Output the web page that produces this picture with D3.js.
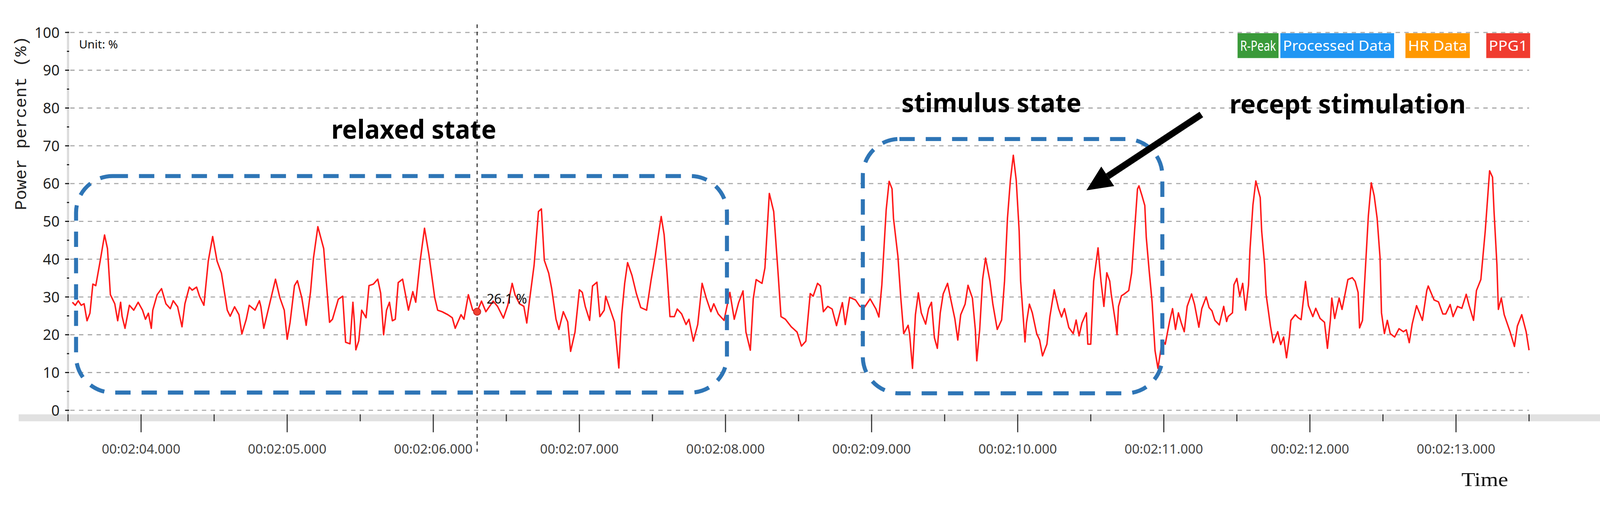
<!DOCTYPE html>
<html><head><meta charset="utf-8">
<script src="https://cdn.jsdelivr.net/npm/d3@7"></script>
<style>html,body{margin:0;padding:0;background:#fff;overflow:hidden;}svg{display:block;width:100vw;height:100vh;}</style>
</head><body><svg id="c" viewBox="0 0 4375 1313" preserveAspectRatio="xMidYMid meet"></svg>
<script>
// time in seconds after 00:02:00
const times = [123.53,123.55,123.57,123.59,123.61,123.63,123.65,123.67,123.69,123.72,123.75,123.77,123.79,123.82,123.84,123.86,123.87,123.89,123.92,123.95,123.98,124.01,124.03,124.05,124.07,124.08,124.11,124.14,124.17,124.20,124.22,124.25,124.28,124.30,124.33,124.35,124.38,124.40,124.43,124.46,124.49,124.52,124.55,124.59,124.61,124.64,124.67,124.69,124.72,124.74,124.78,124.81,124.82,124.84,124.88,124.92,124.95,124.98,125.00,125.02,125.05,125.07,125.10,125.13,125.16,125.18,125.21,125.25,125.27,125.29,125.31,125.35,125.38,125.40,125.43,125.45,125.46,125.47,125.49,125.51,125.54,125.56,125.59,125.62,125.64,125.66,125.68,125.70,125.72,125.74,125.76,125.79,125.83,125.86,125.88,125.91,125.94,125.97,126.01,126.03,126.06,126.10,126.13,126.15,126.19,126.21,126.24,126.27,126.30,
126.33,126.36,126.41,126.44,126.48,126.51,126.54,126.56,126.59,126.62,126.64,126.66,126.69,126.72,126.74,126.76,126.79,126.81,126.84,126.86,126.89,126.92,126.94,126.97,127.00,127.02,127.04,127.07,127.09,127.12,127.14,127.17,127.18,127.21,127.24,127.27,127.29,127.31,127.33,127.36,127.39,127.42,127.46,127.49,127.52,127.56,127.58,127.60,127.62,127.65,127.67,127.70,127.73,127.75,127.78,127.81,127.84,127.87,127.90,127.92,127.95,127.99,128.03,128.06,128.09,128.12,128.14,128.17,128.19,128.21,128.25,128.27,128.30,128.33,128.36,128.38,128.41,128.45,128.49,128.52,128.55,128.58,128.60,128.63,128.65,128.67,128.70,128.73,128.76,128.80,128.82,128.85,128.89,128.92,128.95,128.99,129.03,
129.05,129.07,129.10,129.12,129.14,129.15,129.18,129.20,129.22,129.25,129.26,129.28,129.30,129.32,129.34,129.37,129.39,129.41,129.43,129.45,129.47,129.49,129.52,129.54,129.57,129.59,129.61,129.64,129.66,129.69,129.71,129.72,129.74,129.76,129.78,129.81,129.83,129.86,129.89,129.91,129.93,129.95,129.97,129.99,130.01,130.02,130.05,130.06,130.08,130.10,130.13,130.15,130.17,130.20,130.22,130.25,130.28,130.30,130.32,130.35,130.38,130.40,130.42,130.44,130.47,130.48,130.50,130.52,130.55,130.57,130.59,130.61,130.63,130.64,130.67,130.68,130.69,130.71,130.73,130.76,130.78,130.80,130.82,130.83,130.85,130.87,130.88,130.90,130.92,130.94,130.96,130.99,131.01,131.04,131.06,131.08,131.10,131.12,131.14,131.16,131.19,131.21,131.24,131.26,131.29,
131.31,131.33,131.35,131.38,131.39,131.41,131.43,131.44,131.47,131.48,131.50,131.52,131.54,131.56,131.58,131.59,131.61,131.63,131.66,131.67,131.69,131.70,131.73,131.75,131.78,131.80,131.82,131.84,131.86,131.87,131.90,131.92,131.94,131.97,131.99,132.02,132.04,132.07,132.10,132.12,132.14,132.15,132.17,132.20,132.22,132.26,132.29,132.31,132.33,132.34,132.36,132.38,132.40,132.42,132.44,132.46,132.48,132.49,132.51,132.53,132.55,132.58,132.61,132.64,132.66,132.68,132.70,132.73,132.75,132.77,132.80,132.81,132.85,132.88,132.91,132.93,132.96,132.98,133.01,133.04,133.07,133.09,133.12,133.14,133.17,133.20,133.23,133.25,133.26,133.28,133.29,133.31,133.33,133.37,133.40,133.42,133.45,133.48,133.50];
const ppg1 = [28.6,27.8,29.0,27.8,28.2,23.7,25.7,33.4,33.0,39.5,46.4,42.8,30.6,28.2,23.7,28.6,24.9,21.7,27.8,26.5,28.6,26.5,24.1,25.7,21.7,26.5,30.6,32.2,28.2,26.9,29.0,27.4,22.1,28.2,32.6,31.8,32.6,30.2,27.8,39.5,46.0,39.5,36.3,26.5,24.9,27.4,25.3,20.2,24.1,27.8,26.5,29.0,27.4,21.7,28.2,34.7,29.8,26.5,18.8,23.3,33.0,34.3,29.8,22.5,31.4,40.3,48.6,42.8,33.0,23.3,24.1,29.4,30.2,18.0,17.6,28.6,23.3,16.0,18.4,26.5,24.5,33.0,33.4,34.7,31.0,20.0,26.5,28.6,23.7,24.1,33.8,34.7,26.5,31.4,28.6,39.5,48.2,41.2,29.8,26.5,26.1,25.3,24.5,21.7,25.3,24.1,30.6,26.5,26.1,
28.9,26.1,28.9,27.5,24.4,27.8,33.6,30.5,28.2,27.5,23.1,29.5,38.4,52.6,53.3,39.7,36.3,32.3,24.1,21.4,26.1,23.4,15.6,20.7,31.9,31.2,27.5,23.8,32.9,33.9,24.8,26.5,30.2,26.8,23.4,11.2,25.5,33.6,39.1,35.7,30.9,27.2,26.5,34.3,41.1,51.3,46.5,36.3,24.8,24.8,26.8,25.5,22.7,24.1,18.3,22.7,33.6,29.5,26.1,28.2,25.5,23.8,31.2,24.1,28.5,31.6,20.7,15.9,29.5,34.6,33.6,37.7,57.4,52.6,36.3,24.8,24.1,22.1,20.7,17.0,18.3,30.9,30.2,33.6,32.9,26.1,27.5,26.8,22.4,28.5,22.7,29.9,29.2,27.5,27.2,29.5,26.8,
24.7,33.1,53.1,60.6,58.6,50.8,40.8,29.7,20.3,22.5,20.3,11.1,25.3,31.1,25.8,22.8,26.9,28.6,19.2,16.4,25.8,30.8,33.6,29.7,24.2,18.6,25.3,28.1,33.1,29.7,21.4,13.1,21.4,34.7,40.3,34.2,28.1,21.4,23.9,34.2,50.8,60.9,67.5,60.9,47.5,34.2,18.1,23.1,28.1,25.8,20.3,18.6,14.4,17.5,24.7,31.9,26.9,24.7,26.9,21.9,20.3,23.9,19.7,23.1,25.8,17.5,17.5,34.2,43.0,34.2,27.5,36.4,34.2,30.8,23.1,20.0,27.5,30.3,30.8,31.7,36.4,47.5,58.6,59.4,56.9,54.2,45.8,36.9,28.6,15.8,11.1,18.6,17.5,23.6,26.9,21.4,25.8,23.1,20.8,27.5,30.8,28.1,22.0,26.9,30.0,
27.2,26.3,23.8,22.6,24.3,27.5,23.5,24.8,25.8,33.2,34.9,30.2,33.6,26.5,33.2,42.5,54.3,60.7,56.3,47.4,38.6,30.7,22.3,17.9,20.8,17.4,19.4,13.9,19.6,23.8,25.3,24.5,24.0,34.1,27.7,24.8,27.0,24.3,23.3,16.4,23.8,29.7,24.3,29.7,26.7,34.6,35.1,34.1,31.2,21.8,23.8,37.6,51.4,60.2,56.8,50.9,40.5,25.8,20.3,23.8,20.3,19.4,21.6,20.8,21.3,17.9,22.8,27.7,25.8,23.8,31.7,32.9,29.2,28.7,25.5,25.5,28.0,24.8,27.5,27.0,30.7,27.7,23.8,31.7,34.6,47.4,63.4,61.7,52.9,38.6,26.7,29.7,25.3,20.8,16.9,22.3,25.3,20.8,15.9];
const yTicks = [0,10,20,30,40,50,60,70,80,90,100];
const xTicks = [124,125,126,127,128,129,130,131,132,133];
const xTickLabels = ["00:02:04.000","00:02:05.000","00:02:06.000","00:02:07.000","00:02:08.000","00:02:09.000","00:02:10.000","00:02:11.000","00:02:12.000","00:02:13.000"];
const legendNames = ["R-Peak","Processed Data","HR Data","PPG1"];
const legendColors = ["#3a9a3a","#2196f3","#ff9800","#f03c30"];
const cursorTime = 126.30, cursorValue = 26.1;
// annotation regions [t0,t1,vTop,vBottom]
const regions = [[123.555,128.01,62.0,4.7],[128.94,130.99,71.8,4.5]];
const regionLabels = ["relaxed state","stimulus state"];
const arrowFromTo = [131.257,78.3,130.47,58.2];

const svg = d3.select("#c");
const x = d3.scaleLinear().domain([123.5,133.5]).range([186,4181]);
const y = d3.scaleLinear().domain([0,100]).range([1077,44]);

svg.append("rect").attr("x",51).attr("y",1088).attr("width",4324).attr("height",19).attr("fill","#e1e1e1");
svg.append("line").attr("x1",186).attr("x2",186).attr("y1",40).attr("y2",1088).attr("stroke","#dcdcdc").attr("stroke-width",6);
svg.append("g").selectAll("line").data(yTicks).join("line")
  .attr("x1",192).attr("x2",x(133.5)).attr("y1",d=>y(d)).attr("y2",d=>y(d))
  .attr("stroke","#a8a8a8").attr("stroke-width",3).attr("stroke-dasharray","12,12");
svg.append("g").selectAll("line").data(d3.range(0,101,5)).join("line")
  .attr("x1",d=>d%10===0?178:183).attr("x2",189).attr("y1",d=>y(d)).attr("y2",d=>y(d))
  .attr("stroke","#111").attr("stroke-width",3);
svg.append("g").selectAll("text").data(yTicks).join("text")
  .attr("x",163).attr("y",d=>y(d)).attr("dy","0.36em").attr("text-anchor","end")
  .attr("font-family","Noto Sans").attr("font-size",40).attr("fill","#222").text(d=>d);
svg.append("g").selectAll("line").data(d3.range(123.5,133.51,0.5)).join("line")
  .attr("x1",d=>x(d)).attr("x2",d=>x(d)).attr("y1",1088).attr("y2",d=>Math.abs(d-Math.round(d))<0.01?1137:1107)
  .attr("stroke","#333").attr("stroke-width",3);
svg.append("g").selectAll("text").data(xTicks).join("text")
  .attr("x",d=>x(d)).attr("y",1195).attr("text-anchor","middle")
  .attr("font-family","Noto Sans").attr("font-size",34).attr("fill","#444")
  .attr("textLength",215).attr("lengthAdjust","spacingAndGlyphs").text((d,i)=>xTickLabels[i]);
svg.append("text").attr("transform","translate(72,292) rotate(-90)").attr("text-anchor","middle")
  .attr("font-family","Liberation Mono").attr("font-size",46).attr("fill","#222")
  .attr("textLength",476).attr("lengthAdjust","spacingAndGlyphs").text("Power percent (%)");
svg.append("text").attr("x",4060).attr("y",1284).attr("text-anchor","middle")
  .attr("font-family","Liberation Serif").attr("font-size",54).attr("fill","#111")
  .attr("textLength",128).attr("lengthAdjust","spacingAndGlyphs").text("Time");
svg.append("text").attr("x",216).attr("y",88).attr("font-family","Noto Sans").attr("font-size",32).attr("fill","#111").text("Unit: %");

const lx = [3384,3501,3843,4064], lw = [112,311,176,120];
legendNames.forEach((n,i)=>{
  svg.append("rect").attr("x",lx[i]).attr("y",46).attr("width",lw[i]).attr("height",68).attr("fill",legendColors[i]);
  svg.append("text").attr("x",lx[i]+lw[i]/2).attr("y",94).attr("text-anchor","middle")
    .attr("font-family","Noto Sans").attr("font-size",38).attr("fill","#fff")
    .attr("textLength",lw[i]-14).attr("lengthAdjust","spacingAndGlyphs").text(n);
});

svg.append("line").attr("x1",x(cursorTime)).attr("x2",x(cursorTime)).attr("y1",22).attr("y2",1190)
  .attr("stroke","#333").attr("stroke-width",3).attr("stroke-dasharray","10,10");

const line = d3.line().x((d,i)=>x(times[i])).y(d=>y(d));
svg.append("path").datum(ppg1).attr("d",line).attr("fill","none").attr("stroke","#ff1a1a").attr("stroke-width",4).attr("stroke-linejoin","round");

svg.append("circle").attr("cx",x(cursorTime)).attr("cy",y(cursorValue)).attr("r",10).attr("fill","#f04030").attr("stroke","#c02020").attr("stroke-width",2);
svg.append("text").attr("x",x(cursorTime)+26).attr("y",y(cursorValue)-22).attr("font-family","Noto Sans").attr("font-size",36).attr("fill","#111").text(cursorValue+" %");

svg.append("g").selectAll("rect").data(regions).join("rect")
  .attr("x",d=>x(d[0])).attr("y",d=>y(d[2])).attr("width",d=>x(d[1])-x(d[0])).attr("height",d=>y(d[3])-y(d[2]))
  .attr("rx",100).attr("ry",100).attr("fill","none").attr("stroke","#2e75b6").attr("stroke-width",11).attr("stroke-dasharray","42,30");

const lab = [[regionLabels[0],906,335,451],[regionLabels[1],2465,262,492],["recept stimulation",3362,265,646]];
lab.forEach(l=>svg.append("text").attr("x",l[1]).attr("y",l[2]).attr("font-family","Noto Sans").attr("font-weight","bold")
  .attr("font-size",70).attr("fill","#000").attr("textLength",l[3]).attr("lengthAdjust","spacingAndGlyphs").text(l[0]));

const [a0,a1,a2,a3] = arrowFromTo;
const x0=x(a0),y0=y(a1),x1=x(a2),y1=y(a3);
const ang=Math.atan2(y1-y0,x1-x0), hl=70, hw=32;
const bx=x1-hl*Math.cos(ang), by=y1-hl*Math.sin(ang);
svg.append("line").attr("x1",x0).attr("y1",y0).attr("x2",bx).attr("y2",by).attr("stroke","#000").attr("stroke-width",18);
svg.append("path").attr("d",`M${x1},${y1}L${bx+hw*Math.sin(ang)},${by-hw*Math.cos(ang)}L${bx-hw*Math.sin(ang)},${by+hw*Math.cos(ang)}Z`).attr("fill","#000");
</script></body></html>
